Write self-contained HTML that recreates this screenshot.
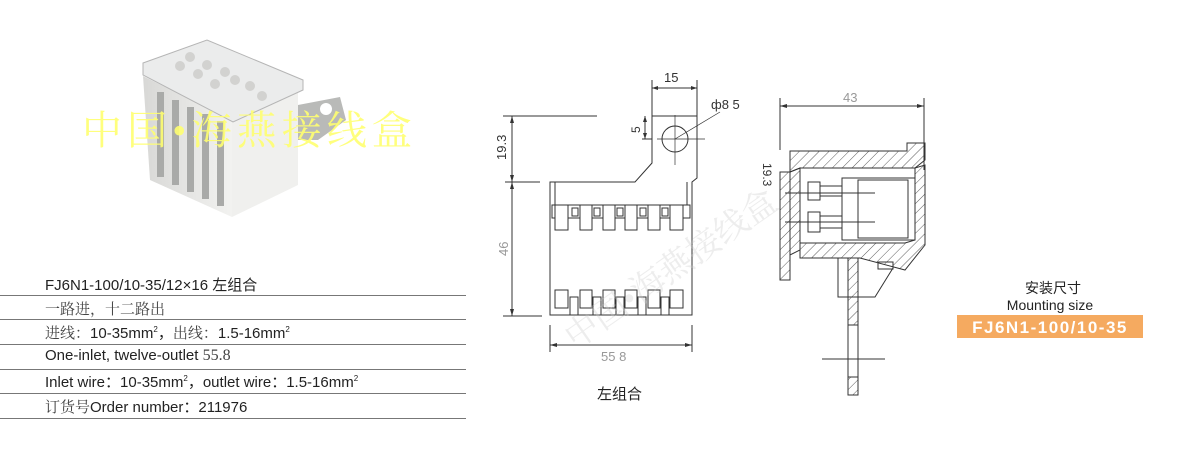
<!DOCTYPE html>
<html><head><meta charset="utf-8"><style>
body{margin:0;background:#fff;}
.wrap{position:relative;width:1189px;height:463px;overflow:hidden;background:#fff;font-family:"Liberation Sans","Noto Sans CJK SC",sans-serif;}
.t{position:absolute;left:45px;font-size:15px;color:#222;white-space:nowrap;}
.cn{font-family:"Liberation Serif","Noto Serif CJK SC",serif;color:#444;}
.ln{position:absolute;left:0;width:466px;height:1px;background:#777;}
</style></head><body><div class="wrap">
<svg width="1189" height="463" style="position:absolute;left:0;top:0" font-family="Liberation Sans, Noto Sans CJK SC, sans-serif">
<defs>
<pattern id="h" width="7" height="7" patternUnits="userSpaceOnUse" patternTransform="rotate(45)"><line x1="0" y1="0" x2="0" y2="7" stroke="#333" stroke-width="0.8"/></pattern>
<linearGradient id="g1" x1="0" x2="1"><stop offset="0" stop-color="#d8d8d6"/><stop offset="1" stop-color="#f2f2f0"/></linearGradient>
</defs>
<!-- product photo -->
<polygon points="143,76 232,120 232,217 150,180" fill="url(#g1)"/>
<polygon points="232,118 298,88 298,185 232,217" fill="#f0f0ee"/>
<polygon points="298,105 340,97 346,120 318,140 298,140" fill="#b9bab8"/>
<circle cx="326" cy="109" r="6" fill="#fff"/>
<g fill="#a9aaa8">
<rect x="157" y="92" width="7" height="85"/><rect x="172" y="100" width="7" height="85"/><rect x="187" y="107" width="7" height="85"/><rect x="202" y="114" width="7" height="85"/><rect x="217" y="121" width="7" height="85"/>
</g>
<polygon points="143,63 207,40 303,80 303,90 233,122 143,75" fill="#ebecec" stroke="#b5b5b5"/>
<g fill="#d2d2d0"><circle cx="190" cy="57" r="5"/><circle cx="207" cy="65" r="5"/><circle cx="225" cy="72" r="5"/><circle cx="180" cy="66" r="5"/><circle cx="198" cy="74" r="5"/><circle cx="235" cy="80" r="5"/><circle cx="250" cy="86" r="5"/><circle cx="215" cy="84" r="5"/><circle cx="262" cy="96" r="5"/></g>
<text x="82" y="144" font-family="Liberation Serif, Noto Serif CJK SC, serif" font-size="40" fill="#ffff70" opacity="0.9" textLength="330" lengthAdjust="spacing">中国•海燕接线盒</text>

<!-- left drawing -->
<g stroke="#333" fill="none" stroke-width="1">
<line x1="652" y1="80" x2="652" y2="116"/><line x1="697" y1="80" x2="697" y2="116"/>
<line x1="652" y1="88" x2="697" y2="88"/>
<path d="M652,116 L652,163 L635,182 L550,182 L550,315 L692,315 L692,182 L697,178 L697,116 Z"/>
<circle cx="675" cy="139" r="13"/>
<line x1="657" y1="139" x2="705" y2="139" stroke-width="0.7"/><line x1="675" y1="115" x2="675" y2="165" stroke-width="0.7"/>
<line x1="675" y1="139" x2="720" y2="112" stroke-width="0.7"/>
<line x1="645" y1="116" x2="645" y2="139"/><line x1="642" y1="139" x2="652" y2="139"/>
<line x1="503" y1="116" x2="597" y2="116"/><line x1="505" y1="182" x2="540" y2="182"/><line x1="503" y1="316" x2="542" y2="316"/>
<line x1="512" y1="116" x2="512" y2="316"/>
<line x1="550" y1="325" x2="550" y2="352"/><line x1="692" y1="325" x2="692" y2="352"/>
<line x1="550" y1="345" x2="692" y2="345"/>
<line x1="555" y1="182" x2="555" y2="205"/><line x1="687" y1="182" x2="687" y2="205"/>
<rect x="552" y="205" width="138" height="13"/>
<g fill="#fff">
<rect x="555" y="205" width="13" height="25"/><rect x="580" y="205" width="12" height="25"/><rect x="603" y="205" width="12" height="25"/><rect x="625" y="205" width="12" height="25"/><rect x="648" y="205" width="12" height="25"/><rect x="670" y="205" width="13" height="25"/>
<rect x="572" y="208" width="6" height="8"/><rect x="594" y="208" width="6" height="8"/><rect x="617" y="208" width="6" height="8"/><rect x="640" y="208" width="6" height="8"/><rect x="662" y="208" width="6" height="8"/>
<rect x="555" y="290" width="13" height="18"/><rect x="580" y="290" width="12" height="18"/><rect x="603" y="290" width="12" height="18"/><rect x="625" y="290" width="12" height="18"/><rect x="648" y="290" width="12" height="18"/><rect x="670" y="290" width="13" height="18"/>
<rect x="570" y="297" width="8" height="18"/><rect x="593" y="297" width="8" height="18"/><rect x="616" y="297" width="8" height="18"/><rect x="638" y="297" width="8" height="18"/><rect x="661" y="297" width="8" height="18"/>
</g>
</g>
<g fill="#333">
<polygon points="652,88 658,86 658,90"/><polygon points="697,88 691,86 691,90"/>
<polygon points="512,116 510,123 514,123"/><polygon points="512,182 510,175 514,175"/><polygon points="512,182 510,189 514,189"/><polygon points="512,316 510,309 514,309"/>
<polygon points="550,345 557,343 557,347"/><polygon points="692,345 685,343 685,347"/>
<polygon points="645,116 643,122 647,122"/><polygon points="645,139 643,133 647,133"/>
</g>
<text x="664" y="82" font-size="13" fill="#333">15</text>
<text x="711" y="109" font-size="13" fill="#333">ф8 5</text>
<text x="640" y="133" font-size="12" fill="#333" transform="rotate(-90 640 133)">5</text>
<text x="506" y="160" font-size="13" fill="#333" transform="rotate(-90 506 160)">19.3</text>
<text x="508" y="256" font-size="13" fill="#999" transform="rotate(-90 508 256)">46</text>
<text x="601" y="361" font-size="13" fill="#999">55 8</text>
<text x="597" y="399" font-size="15" fill="#222">左组合</text>

<!-- right drawing -->
<g stroke="#333" fill="none" stroke-width="1">
<line x1="780" y1="98" x2="780" y2="150"/><line x1="924" y1="98" x2="924" y2="170"/>
<line x1="780" y1="106" x2="924" y2="106"/>
<path d="M790,151 L907,151 L907,143 L925,143 L925,160 L915,168 L800,168 L790,172 Z" fill="url(#h)"/>
<path d="M780,172 L790,172 L790,280 L780,280 Z" fill="url(#h)"/>
<path d="M790,172 L800,168 L800,250 L790,255 Z" fill="url(#h)"/>
<path d="M800,243 L905,243 L915,240 L915,168 L925,165 L925,245 L905,270 L860,258 L800,258 Z" fill="url(#h)"/>
<rect x="848" y="258" width="10" height="67" fill="url(#h)"/>
<rect x="848" y="377" width="10" height="18" fill="url(#h)"/>
<line x1="848" y1="325" x2="848" y2="377"/><line x1="858" y1="325" x2="858" y2="377"/>
<path d="M838,258 L838,297 L875,297 L893,268"/>
<line x1="822" y1="359" x2="885" y2="359"/>
<rect x="842" y="178" width="73" height="62" fill="#fff"/>
<rect x="858" y="180" width="50" height="58"/>
<rect x="808" y="182" width="12" height="18" fill="#fff"/><rect x="808" y="212" width="12" height="20" fill="#fff"/>
<line x1="785" y1="193" x2="875" y2="193"/><line x1="785" y1="222" x2="875" y2="222"/>
<line x1="820" y1="186" x2="842" y2="186"/><line x1="820" y1="196" x2="842" y2="196"/>
<line x1="820" y1="216" x2="842" y2="216"/><line x1="820" y1="228" x2="842" y2="228"/>
<rect x="878" y="262" width="15" height="7"/>
</g>
<g fill="#333"><polygon points="780,106 787,104 787,108"/><polygon points="924,106 917,104 917,108"/></g>
<text x="843" y="102" font-size="13" fill="#999">43</text>
<text x="786" y="170" font-size="12" fill="#333" transform="rotate(90 778 155)">19.3</text>

<g font-family="Liberation Serif, Noto Serif CJK SC, serif" font-size="34" fill="#ccc" opacity="0.35">
<text x="575" y="350" transform="rotate(-35 575 350)">中国•海燕接线盒</text>
</g>

<!-- right caption -->
<text x="1053" y="293" font-size="14" fill="#222" text-anchor="middle">安装尺寸</text>
<text x="1050" y="310" font-size="14" fill="#222" text-anchor="middle">Mounting size</text>
<rect x="957" y="315" width="186" height="23" fill="#f5aa60"/>
<text x="1050" y="333" font-size="17" font-weight="bold" fill="#fff" text-anchor="middle" letter-spacing="1.5">FJ6N1-100/10-35</text>
</svg>

<div class="t" style="top:274px">FJ6N1-100/10-35/12×16 左组合</div>
<div class="ln" style="top:295px"></div>
<div class="t cn" style="top:298px">一路进，十二路出</div>
<div class="ln" style="top:319px"></div>
<div class="t" style="top:322px"><span class="cn">进线：</span>10-35mm<sup style="font-size:8px">2</sup>，<span class="cn">出线：</span>1.5-16mm<sup style="font-size:8px">2</sup></div>
<div class="ln" style="top:344px"></div>
<div class="t" style="top:347px">One-inlet, twelve-outlet <span class="cn" style="font-size:16px">55.8</span></div>
<div class="ln" style="top:369px"></div>
<div class="t" style="top:371px">Inlet wire：10-35mm<sup style="font-size:8px">2</sup>，outlet wire：1.5-16mm<sup style="font-size:8px">2</sup></div>
<div class="ln" style="top:393px"></div>
<div class="t" style="top:396px"><span class="cn">订货号</span>Order number：211976</div>
<div class="ln" style="top:418px"></div>
</div></body></html>
